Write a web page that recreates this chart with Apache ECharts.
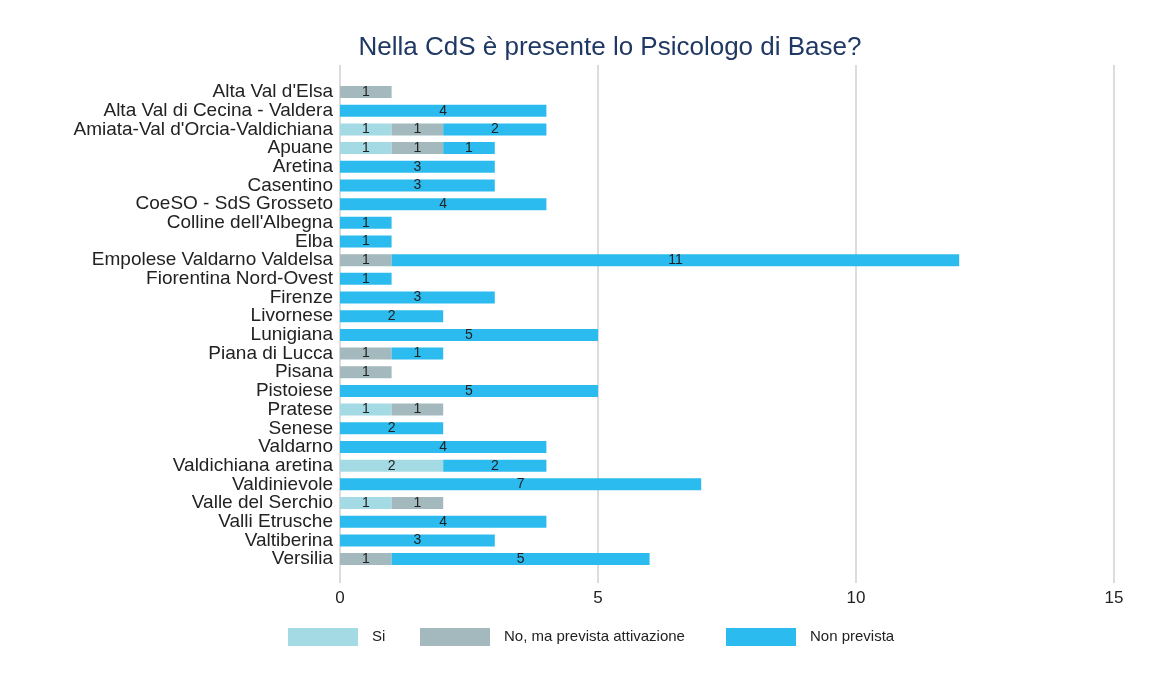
<!DOCTYPE html>
<html>
<head>
<meta charset="utf-8">
<script src="https://cdn.jsdelivr.net/npm/echarts@6/dist/echarts.min.js"></script>
<style>
html,body{margin:0;padding:0;background:#fff;}
#chart{width:1161px;height:682px;}
</style>
</head>
<body>
<div id="chart"></div>
<script>
const categories = [
  "Alta Val d'Elsa", "Alta Val di Cecina - Valdera", "Amiata-Val d'Orcia-Valdichiana", "Apuane",
  "Aretina", "Casentino", "CoeSO - SdS Grosseto", "Colline dell'Albegna", "Elba",
  "Empolese Valdarno Valdelsa", "Fiorentina Nord-Ovest", "Firenze", "Livornese", "Lunigiana",
  "Piana di Lucca", "Pisana", "Pistoiese", "Pratese", "Senese", "Valdarno",
  "Valdichiana aretina", "Valdinievole", "Valle del Serchio", "Valli Etrusche", "Valtiberina", "Versilia"
];
const seriesNames = ["Si", "No, ma prevista attivazione", "Non prevista"];
const si          = [0,0,1,1,0,0,0,0,0,0,0,0,0,0,0,0,0,1,0,0,2,0,1,0,0,0];
const noPrevista  = [1,0,1,1,0,0,0,0,0,1,0,0,0,0,1,1,0,1,0,0,0,0,1,0,0,1];
const nonPrevista = [0,4,2,1,3,3,4,1,1,11,1,3,2,5,1,0,5,0,2,4,2,7,0,4,3,5];
const xTicks = [0, 5, 10, 15];
const colors = ["#a3dae3", "#a3b9bd", "#2bbbee"];

const FONT = "'Liberation Sans', Arial, sans-serif";
const chart = echarts.init(document.getElementById('chart'));
const values = [si, noPrevista, nonPrevista];

const series = seriesNames.map((name, i) => ({
  name: name,
  type: 'bar',
  stack: 'total',
  xAxisIndex: 0,
  yAxisIndex: 0,
  barWidth: 12,
  data: values[i],
  itemStyle: { color: colors[i] },
  label: {
    show: true,
    position: 'inside',
    color: '#222',
    fontFamily: FONT,
    fontSize: 14,
    formatter: p => p.value ? String(p.value) : ''
  }
}));

const legendBase = {
  orient: 'horizontal',
  top: 628,
  padding: 0,
  itemWidth: 70,
  itemHeight: 18,
  icon: 'rect',
  textStyle: { fontFamily: FONT, fontSize: 15, color: '#222', padding: [0, 0, 0, 9] },
  selectedMode: false
};

chart.setOption({
  backgroundColor: '#fff',
  animation: false,
  title: {
    text: 'Nella CdS è presente lo Psicologo di Base?',
    left: 605,
    textAlign: 'center',
    top: 30,
    textStyle: { fontFamily: FONT, fontSize: 26, fontWeight: 'normal', color: '#1f3864' }
  },
  legend: [
    Object.assign({}, legendBase, { left: 288, data: [seriesNames[0]] }),
    Object.assign({}, legendBase, { left: 420, data: [seriesNames[1]] }),
    Object.assign({}, legendBase, { left: 726, data: [seriesNames[2]] })
  ],
  grid: [
    { left: 340, right: 47, top: 82.7, height: 485.7 },
    { left: 340, right: 47, top: 65, height: 518 }
  ],
  xAxis: [
    { gridIndex: 0, type: 'value', min: 0, max: 15, show: false },
    {
      gridIndex: 1, type: 'value', min: xTicks[0], max: xTicks[xTicks.length - 1], interval: 5,
      axisLine: { show: false }, axisTick: { show: false },
      splitLine: { show: true, lineStyle: { color: '#dcdcdc', width: 2 } },
      axisLabel: { fontFamily: FONT, fontSize: 17, color: '#222', margin: 7 }
    }
  ],
  yAxis: [
    {
      gridIndex: 0, type: 'category', data: categories, inverse: true,
      axisLine: { show: false }, axisTick: { show: false },
      axisLabel: { fontFamily: FONT, fontSize: 19, color: '#222', margin: 7, interval: 0 }
    },
    { gridIndex: 1, type: 'value', show: false, min: 0, max: 1 }
  ],
  series: series
});
</script>
</body>
</html>
